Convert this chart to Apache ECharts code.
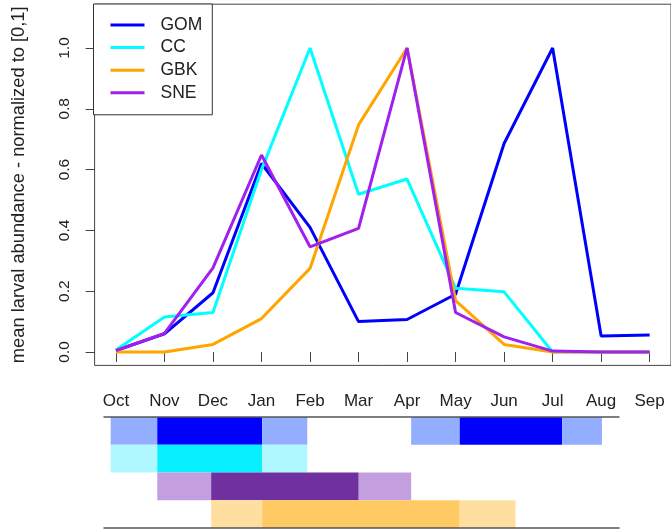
<!DOCTYPE html>
<html>
<head>
<meta charset="utf-8">
<script src="https://cdn.jsdelivr.net/npm/echarts@6/dist/echarts.min.js"></script>
<style>
html,body{margin:0;padding:0;background:#fff;}
#c{width:671px;height:529px;}
</style>
</head>
<body>
<div id="c"></div>
<script>
// ---- data ----
const months = ['Oct','Nov','Dec','Jan','Feb','Mar','Apr','May','Jun','Jul','Aug','Sep'];
const monthPos = [1,2,3,4,5,6,7,8,9,10,11,12];
const yTicks = [0,0.2,0.4,0.6,0.8,1.0];
const gom = [0.005,0.06,0.195,0.62,0.41,0.10,0.107,0.19,0.686,1.0,0.053,0.056];
const cc  = [0.007,0.115,0.13,0.60,1.0,0.519,0.569,0.21,0.198,0.0,0.0,0.0];
const gbk = [0.0,0.0,0.025,0.11,0.275,0.747,1.0,0.169,0.025,0.0,0.0,0.0];
const sne = [0.005,0.061,0.277,0.648,0.346,0.407,1.0,0.13,0.05,0.003,0.0,0.0];
const spanRows = ['GOM','CC','SNE','GBK'];
// [start, end, level]  level 0 = low, 1 = high   (month units, Oct = 1)
const gomSpans = [[0.89,1.85,0],[1.85,4.01,1],[4.01,4.94,0],[7.08,8.08,0],[8.08,10.19,1],[10.19,11.01,0]];
const ccSpans  = [[0.89,1.85,0],[1.85,4.01,1],[4.01,4.94,0]];
const sneSpans = [[1.85,2.96,0],[2.96,6.0,1],[6.0,7.08,0]];
const gbkSpans = [[2.96,4.01,0],[4.01,8.08,1],[8.08,9.23,0]];

// ---- styles ----
const lineColors = {GOM:'#0000FF', CC:'#00FFFF', GBK:'#FFA500', SNE:'#A020F0'};
const spanColors = {
  GOM:['#94AEFF','#0000FF'],
  CC:['#B0F8FF','#08F0FF'],
  SNE:['#C39FE0','#7030A0'],
  GBK:['#FFDFA0','#FFCA64']
};
const font = 'Liberation Sans, Arial, sans-serif';

const spanData = [];
const spanFill = [];
[[gomSpans,'GOM'],[ccSpans,'CC'],[sneSpans,'SNE'],[gbkSpans,'GBK']].forEach(([arr,name])=>{
  const r = spanRows.indexOf(name);
  arr.forEach(s=>{ spanData.push([s[0], s[1], r]); spanFill.push(spanColors[name][s[2]]); });
});

function lineSeries(name, vals){
  return {
    name: name, type:'line', xAxisIndex:0, yAxisIndex:0,
    data: monthPos.map((m,i)=>[m, vals[i]]),
    showSymbol:false, symbol:'none',
    lineStyle:{color:lineColors[name], width:3},
    itemStyle:{color:lineColors[name]},
    animation:false
  };
}

const chart = echarts.init(document.getElementById('c'), null, {renderer:'canvas'});
chart.setOption({
  animation:false,
  backgroundColor:'#fff',
  textStyle:{fontFamily:font},
  grid:[
    {left:94.6, top:4.2, width:576.8, height:361.2, show:true, borderColor:'#444', borderWidth:1, backgroundColor:'transparent'},
    {left:104, top:417, width:515, height:111, show:false}
  ],
  legend:{
    data:['GOM','CC','GBK','SNE'],
    orient:'vertical', left:93.5, top:4,
    icon:'rect', itemWidth:34, itemHeight:3, itemGap:2.6,
    padding:[11,10,12,17],
    borderColor:'#333', borderWidth:1, backgroundColor:'#fff',
    textStyle:{fontSize:17.5, lineHeight:20, color:'#222', fontFamily:font, padding:[0,0,0,11]}
  },
  xAxis:[
    {type:'value', gridIndex:0, min:0.56, max:12.44,
     axisLine:{show:false}, splitLine:{show:false},
     axisTick:{show:true, customValues:monthPos, length:10, lineStyle:{color:'#444'}},
     axisLabel:{show:true, customValues:monthPos, margin:27, fontSize:17, color:'#222', fontFamily:font,
       formatter:v=>months[Math.round(v)-1]}},
    {type:'value', gridIndex:1, min:0.7528, max:11.3615, position:'bottom', z:10,
     axisLine:{show:true, onZero:false, lineStyle:{color:'#555', width:1.5}},
     axisTick:{show:false}, axisLabel:{show:false}, splitLine:{show:false}},
    {type:'value', gridIndex:1, min:0.7528, max:11.3615, position:'top', z:10,
     axisLine:{show:true, onZero:false, lineStyle:{color:'#555', width:1.5}},
     axisTick:{show:false}, axisLabel:{show:false}, splitLine:{show:false}}
  ],
  yAxis:[
    {type:'value', gridIndex:0, min:-0.044, max:1.144,
     axisLine:{show:false}, splitLine:{show:false},
     axisTick:{show:true, customValues:yTicks, length:9, lineStyle:{color:'#444'}},
     axisLabel:{show:true, customValues:yTicks, rotate:90, margin:22, fontSize:15.5, color:'#222', fontFamily:font,
       formatter:v=>v.toFixed(1)},
     name:'mean larval abundance - normalized to [0,1]', nameLocation:'middle', nameGap:67,
     nameTextStyle:{fontSize:18.3, color:'#222', fontFamily:font}},
    {type:'category', gridIndex:1, data:spanRows, inverse:true, show:false}
  ],
  series:[
    lineSeries('GOM', gom),
    lineSeries('CC', cc),
    lineSeries('GBK', gbk),
    lineSeries('SNE', sne),
    {
      type:'custom', xAxisIndex:1, yAxisIndex:1, data:spanData, animation:false,
      renderItem:function(params, api){
        const s = api.coord([api.value(0), api.value(2)]);
        const e = api.coord([api.value(1), api.value(2)]);
        const h = api.size([0,1])[1];
        return {type:'rect', shape:{x:s[0], y:s[1]-h/2, width:e[0]-s[0], height:h},
                style:{fill:spanFill[params.dataIndex]}};
      }
    }
  ]
});
</script>
</body>
</html>
